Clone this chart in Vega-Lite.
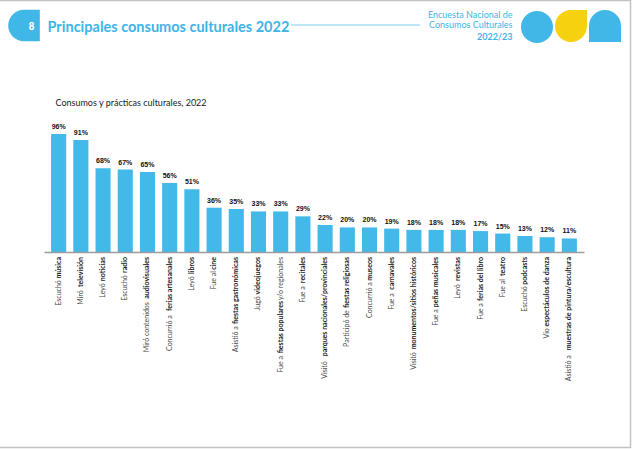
{
  "$schema": "https://vega.github.io/schema/vega-lite/v6.json",
  "width": 540,
  "height": 123,
  "autosize": "none",
  "padding": {"left": 44, "top": 129, "right": 48, "bottom": 197},
  "background": "white",
  "config": {"view": {"stroke": null}, "font": "Lato"},
  "datasets": {
    "consumos": [
      {"actividad": "Escuchó música", "antes": "Escuchó", "negrita": "música", "despues": "", "valor": 0.96},
      {"actividad": "Miró televisión", "antes": "Miró", "negrita": "televisión", "despues": "", "valor": 0.91},
      {"actividad": "Leyó noticias", "antes": "Leyó", "negrita": "noticias", "despues": "", "valor": 0.68},
      {"actividad": "Escuchó radio", "antes": "Escuchó", "negrita": "radio", "despues": "", "valor": 0.67},
      {"actividad": "Miró contenidos audiovisuales", "antes": "Miró contenidos", "negrita": "audiovisuales", "despues": "", "valor": 0.65},
      {"actividad": "Concurrió a ferias artesanales", "antes": "Concurrió a", "negrita": "ferias artesanales", "despues": "", "valor": 0.56},
      {"actividad": "Leyó libros", "antes": "Leyó", "negrita": "libros", "despues": "", "valor": 0.51},
      {"actividad": "Fue al cine", "antes": "Fue al", "negrita": "cine", "despues": "", "valor": 0.36},
      {"actividad": "Asistió a fiestas gastronómicas", "antes": "Asistió a", "negrita": "fiestas gastronómicas", "despues": "", "valor": 0.35},
      {"actividad": "Jugó videojuegos", "antes": "Jugó", "negrita": "videojuegos", "despues": "", "valor": 0.33},
      {"actividad": "Fue a fiestas populares y/o regionales", "antes": "Fue a", "negrita": "fiestas populares", "despues": "y/o regionales", "valor": 0.33},
      {"actividad": "Fue a recitales", "antes": "Fue a", "negrita": "recitales", "despues": "", "valor": 0.29},
      {"actividad": "Visitó parques nacionales/provinciales", "antes": "Visitó", "negrita": "parques nacionales/provinciales", "despues": "", "valor": 0.22},
      {"actividad": "Participó de fiestas religiosas", "antes": "Participó de", "negrita": "fiestas religiosas", "despues": "", "valor": 0.20},
      {"actividad": "Concurrió a museos", "antes": "Concurrió a", "negrita": "museos", "despues": "", "valor": 0.20},
      {"actividad": "Fue a carnavales", "antes": "Fue a", "negrita": "carnavales", "despues": "", "valor": 0.19},
      {"actividad": "Visitó monumentos/sitios históricos", "antes": "Visitó", "negrita": "monumentos/sitios históricos", "despues": "", "valor": 0.18},
      {"actividad": "Fue a peñas musicales", "antes": "Fue a", "negrita": "peñas musicales", "despues": "", "valor": 0.18},
      {"actividad": "Leyó revistas", "antes": "Leyó", "negrita": "revistas", "despues": "", "valor": 0.18},
      {"actividad": "Fue a ferias del libro", "antes": "Fue a", "negrita": "ferias del libro", "despues": "", "valor": 0.17},
      {"actividad": "Fue al teatro", "antes": "Fue al", "negrita": "teatro", "despues": "", "valor": 0.15},
      {"actividad": "Escuchó podcasts", "antes": "Escuchó", "negrita": "podcasts", "despues": "", "valor": 0.13},
      {"actividad": "Vio espectáculos de danza", "antes": "Vio", "negrita": "espectáculos de danza", "despues": "", "valor": 0.12},
      {"actividad": "Asistió a muestras de pintura/escultura", "antes": "Asistió a", "negrita": "muestras de pintura/escultura", "despues": "", "valor": 0.11}
    ],
    "encabezado": [{"pagina": "8"}]
  },
  "layer": [
    {
      "data": {"name": "consumos"},
      "encoding": {
        "x": {
          "field": "actividad",
          "type": "nominal",
          "sort": null,
          "scale": {"paddingInner": 0.32, "paddingOuter": 0.32},
          "axis": {
            "orient": "bottom",
            "domain": true,
            "domainColor": "#9d9d9d",
            "domainWidth": 1.5,
            "labels": false,
            "ticks": false,
            "zindex": 1,
            "title": "2022/23",
            "titleX": 468,
            "titleY": -216,
            "titleAngle": 0,
            "titleAlign": "right",
            "titleBaseline": "middle",
            "titleFont": "Lato",
            "titleFontSize": 9,
            "titleFontWeight": "bold",
            "titleColor": "#3bb5e7"
          }
        }
      },
      "layer": [
        {
          "mark": {"type": "bar", "color": "#42b9e9"},
          "encoding": {
            "y": {
              "field": "valor",
              "type": "quantitative",
              "scale": {"domain": [0, 1]},
              "axis": {
                "domain": false,
                "labels": false,
                "ticks": false,
                "grid": false,
                "title": "Consumos y prácticas culturales, 2022",
                "titleAngle": 0,
                "titleX": 11,
                "titleY": -27,
                "titleAlign": "left",
                "titleBaseline": "middle",
                "titleFont": "Lato",
                "titleFontSize": 9,
                "titleFontWeight": "normal",
                "titleColor": "#1a1a1a"
              }
            }
          }
        },
        {
          "mark": {"type": "text", "font": "Liberation Sans", "fontWeight": "bold", "fontSize": 7, "color": "#111111", "baseline": "alphabetic", "dy": -5},
          "encoding": {
            "y": {"field": "valor", "type": "quantitative"},
            "text": {"field": "valor", "type": "quantitative", "format": ".0%"}
          }
        },
        {
          "mark": {"type": "text", "angle": 270, "align": "right", "baseline": "middle", "font": "Lato", "fontSize": 7, "color": "#4a4a4a", "dx": -5},
          "encoding": {
            "y": {"datum": 0, "type": "quantitative"},
            "text": {"field": "despues"}
          }
        },
        {
          "mark": {"type": "text", "angle": 270, "align": "right", "baseline": "middle", "font": "Lato", "fontSize": 7, "fontWeight": "bold", "color": "#1a1a1a",
            "dx": {"expr": "-5 - (datum.despues ? 6.8 * (0.53*length(datum.despues) - 0.28*(length(datum.despues)-length(replace(datum.despues, regexp('[ijlí.,]','g'), ''))) - 0.17*(length(datum.despues)-length(replace(datum.despues, regexp('[ftr/]','g'), ''))) - 0.33*(length(datum.despues)-length(replace(datum.despues, regexp(' ','g'), ''))) - 0.11*(length(datum.despues)-length(replace(datum.despues, regexp('[scz]','g'), ''))) + 0.29*(length(datum.despues)-length(replace(datum.despues, regexp('m','g'), ''))) + 0.22*(length(datum.despues)-length(replace(datum.despues, regexp('w','g'), '')))) + 2.5 : 0)"}},
          "encoding": {
            "y": {"datum": 0, "type": "quantitative"},
            "text": {"field": "negrita"}
          }
        },
        {
          "mark": {"type": "text", "angle": 270, "align": "right", "baseline": "middle", "font": "Lato", "fontSize": 7, "color": "#4a4a4a",
            "dx": {"expr": "-5 - (datum.despues ? 6.8 * (0.53*length(datum.despues) - 0.28*(length(datum.despues)-length(replace(datum.despues, regexp('[ijlí.,]','g'), ''))) - 0.17*(length(datum.despues)-length(replace(datum.despues, regexp('[ftr/]','g'), ''))) - 0.33*(length(datum.despues)-length(replace(datum.despues, regexp(' ','g'), ''))) - 0.11*(length(datum.despues)-length(replace(datum.despues, regexp('[scz]','g'), ''))) + 0.29*(length(datum.despues)-length(replace(datum.despues, regexp('m','g'), ''))) + 0.22*(length(datum.despues)-length(replace(datum.despues, regexp('w','g'), '')))) + 2.5 : 0) - (4*length(datum.negrita) - 2*(length(datum.negrita)-length(replace(datum.negrita, regexp('[fijlí]','g'), ''))) - (length(datum.negrita)-length(replace(datum.negrita, regexp('[cgrstz/]','g'), ''))) - 3*(length(datum.negrita)-length(replace(datum.negrita, regexp(' ','g'), ''))) + 2*(length(datum.negrita)-length(replace(datum.negrita, regexp('m','g'), ''))) + (length(datum.negrita)-length(replace(datum.negrita, regexp('w','g'), '')))) - 1.2"}},
          "encoding": {
            "y": {"datum": 0, "type": "quantitative"},
            "text": {"field": "antes"}
          }
        }
      ]
    },
    {
      "data": {"name": "encabezado"},
      "encoding": {
        "x": {
          "datum": 0,
          "type": "quantitative",
          "scale": {"domain": [0, 632], "range": [-44, 588], "zero": false, "nice": false},
          "axis": {
            "orient": "top",
            "domain": false,
            "labels": false,
            "ticks": false,
            "grid": false,
            "title": "Principales consumos culturales 2022",
            "titleX": 3,
            "titleY": -102,
            "titleAngle": 0,
            "titleAlign": "left",
            "titleBaseline": "middle",
            "titleFont": "Lato",
            "titleFontSize": 14.5,
            "titleFontWeight": "bold",
            "titleColor": "#3bb5e7"
          }
        },
        "y": {
          "datum": 0,
          "type": "quantitative",
          "scale": {"domain": [0, 449], "range": [-129, 320], "zero": false, "nice": false},
          "axis": {
            "orient": "right",
            "domain": false,
            "labels": false,
            "ticks": false,
            "grid": false,
            "title": ["Encuesta Nacional de", "Consumos Culturales"],
            "titleX": -72,
            "titleY": -119,
            "titleAngle": 0,
            "titleAlign": "right",
            "titleBaseline": "top",
            "titleLineHeight": 10.5,
            "titleFont": "Lato",
            "titleFontSize": 9,
            "titleFontWeight": "normal",
            "titleColor": "#3bb5e7"
          }
        }
      },
      "layer": [
        {
          "mark": {"type": "rect", "filled": false, "stroke": "#c4c4c4", "strokeWidth": 1.5},
          "encoding": {
            "x": {"datum": -2, "type": "quantitative"},
            "x2": {"datum": 630.5},
            "y": {"datum": 0.5, "type": "quantitative"},
            "y2": {"datum": 447.5}
          }
        },
        {
          "mark": {"type": "rule", "color": "#7fcdee", "strokeWidth": 1},
          "encoding": {
            "x": {"datum": 291, "type": "quantitative"},
            "x2": {"datum": 420},
            "y": {"datum": 25, "type": "quantitative"}
          }
        },
        {
          "mark": {"type": "point", "filled": true, "opacity": 1, "color": "#41b7e8", "size": 1000,
            "shape": "M1,-1L1,1L0,1A1,1,0,0,1,-1,0A1,1,0,0,1,0,-1Z"},
          "encoding": {
            "x": {"datum": 24, "type": "quantitative"},
            "y": {"datum": 25.5, "type": "quantitative"}
          }
        },
        {
          "mark": {"type": "text", "font": "Liberation Sans", "fontWeight": "bold", "fontSize": 10, "color": "white", "align": "center", "baseline": "middle"},
          "encoding": {
            "x": {"datum": 31.5, "type": "quantitative"},
            "y": {"datum": 27, "type": "quantitative"},
            "text": {"field": "pagina"}
          }
        },
        {
          "mark": {"type": "point", "filled": true, "opacity": 1, "color": "#41b7e8", "size": 1024, "shape": "circle"},
          "encoding": {
            "x": {"datum": 537, "type": "quantitative"},
            "y": {"datum": 27, "type": "quantitative"}
          }
        },
        {
          "mark": {"type": "point", "filled": true, "opacity": 1, "color": "#f5d10f", "size": 1024,
            "shape": "M0,-1L1,-1L1,0A1,1,0,0,1,0,1A1,1,0,0,1,-1,0A1,1,0,0,1,0,-1Z"},
          "encoding": {
            "x": {"datum": 571, "type": "quantitative"},
            "y": {"datum": 26, "type": "quantitative"}
          }
        },
        {
          "mark": {"type": "point", "filled": true, "opacity": 1, "color": "#41b7e8", "size": 1024,
            "shape": "M-1,1L-1,0A1,1,0,0,1,1,0L1,1Z"},
          "encoding": {
            "x": {"datum": 605, "type": "quantitative"},
            "y": {"datum": 26, "type": "quantitative"}
          }
        }
      ]
    }
  ],
  "resolve": {"scale": {"x": "independent", "y": "independent"}}
}
